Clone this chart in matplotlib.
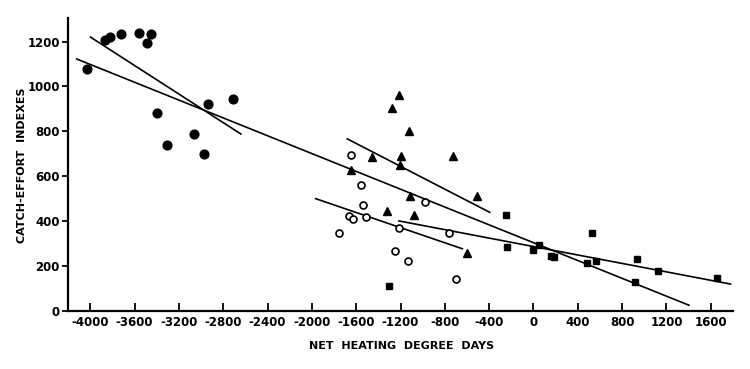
import matplotlib
matplotlib.use("Agg")
import matplotlib.pyplot as plt

# Filled circles
fc_x = [-4027, -3865, -3825, -3726, -3564, -3486, -3453, -3401, -3306, -3062, -2975, -2939, -2710]
fc_y = [1078, 1209, 1220, 1234, 1237, 1192, 1236, 882, 737, 786, 697, 921, 944]

# Triangles
tr_x = [-1212, -1281, -1119, -1453, -1191, -1206, -728, -1648, -1110, -509, -1321, -1077, -604]
tr_y = [961, 906, 803, 686, 689, 652, 689, 627, 511, 511, 445, 426, 258]

# Open circles
oc_x = [-1651, -1552, -1537, -978, -1664, -1633, -1507, -1757, -1215, -758, -1254, -1128, -698]
oc_y = [694, 561, 472, 483, 422, 407, 419, 346, 367, 345, 265, 220, 143]

# Squares
sq_x = [-1305, -244, -238, 0, 48, 162, 189, 487, 526, 562, 935, 914, 1124, 1657]
sq_y = [110, 425, 282, 269, 293, 245, 239, 211, 347, 221, 232, 126, 178, 144]

# Fitted lines (endpoints)
lineA_x = [-4003, -2634]; lineA_y = [1222, 786]
lineB_x = [-4129, 1410]; lineB_y = [1124, 23]
lineC_x = [-1687, -388]; lineC_y = [768, 437]
lineD_x = [-1973, -635]; lineD_y = [501, 275]
lineE_x = [-1221, 1786]; lineE_y = [401, 118]

xticks = [-4000, -3600, -3200, -2800, -2400, -2000, -1600, -1200, -800, -400, 0, 400, 800, 1200, 1600]
yticks = [0, 200, 400, 600, 800, 1000, 1200]

fig = plt.figure(figsize=(7.5, 3.69), dpi=100)
ax = fig.add_axes([0.0907, 0.158, 0.8866, 0.793])

for lx, ly in [(lineA_x, lineA_y), (lineB_x, lineB_y), (lineC_x, lineC_y),
               (lineD_x, lineD_y), (lineE_x, lineE_y)]:
    ax.plot(lx, ly, color="black", lw=1.2, solid_capstyle="butt")

ax.plot(fc_x, fc_y, "o", color="black", ms=6.3, mec="black", ls="none")
ax.plot(tr_x, tr_y, "^", color="black", ms=5.5, ls="none")
ax.plot(oc_x, oc_y, "o", mfc="white", mec="black", mew=1.2, ms=5.0, ls="none")
ax.plot(sq_x, sq_y, "s", color="black", ms=4.5, ls="none")

ax.set_xlim(-4200, 1800)
ax.set_ylim(0, 1305)
ax.set_xticks(xticks)
ax.set_xticklabels([str(t) for t in xticks])
ax.set_yticks(yticks)
ax.set_yticklabels([str(t) for t in yticks])

for s in ["top", "right"]:
    ax.spines[s].set_visible(False)
for s in ["left", "bottom"]:
    ax.spines[s].set_linewidth(1.6)

ax.tick_params(axis="x", direction="in", length=6, width=1.3, labelsize=8.5, pad=4)
ax.tick_params(axis="y", direction="out", length=4, width=1.3, labelsize=8.5, pad=2)
for lab in ax.get_xticklabels() + ax.get_yticklabels():
    lab.set_fontweight("bold")

fig.text(0.535, 0.062, "NET  HEATING  DEGREE  DAYS", ha="center", va="center",
         fontsize=8, fontweight="bold")
fig.text(0.029, 0.553, "CATCH-EFFORT  INDEXES", ha="center", va="center",
         rotation=90, fontsize=8, fontweight="bold")

fig.savefig("out.png", dpi=100)
